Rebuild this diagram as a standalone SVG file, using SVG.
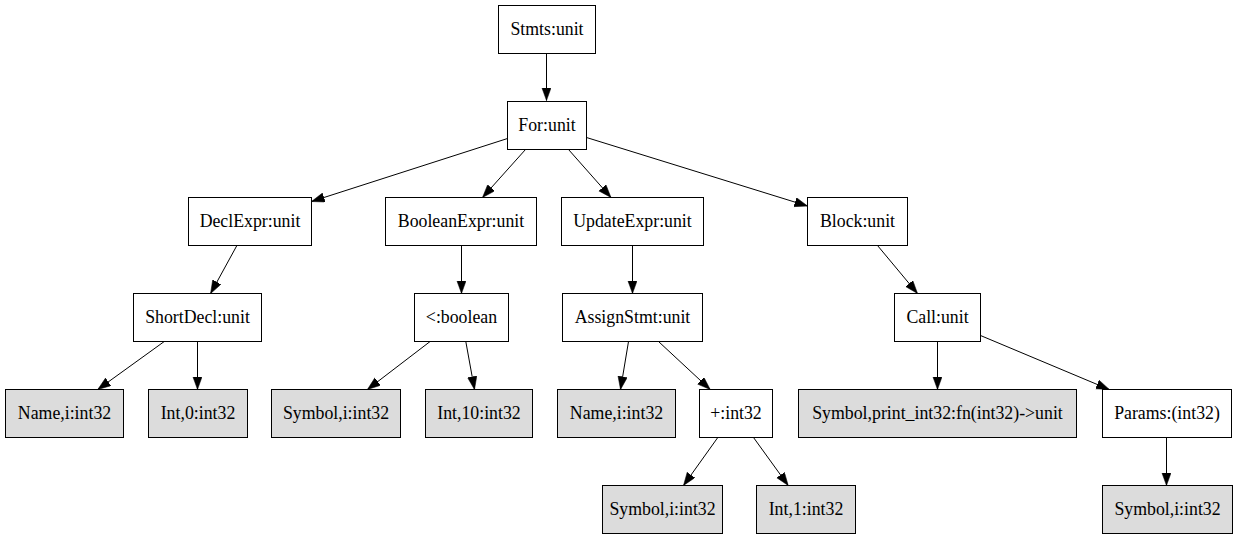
<svg xmlns="http://www.w3.org/2000/svg" width="1237" height="539" viewBox="0 0 1237 539">
<style>
.n rect{fill:#ffffff;stroke:#000;stroke-width:1}
.n.leaf rect{fill:#dcdcdc}
.n text{font-family:'Liberation Serif',serif;font-size:17.8px;fill:#000;text-anchor:middle}
.e line{stroke:#000;stroke-width:1;marker-end:url(#ah)}
</style>
<defs>
<marker id="ah" markerUnits="userSpaceOnUse" markerWidth="15" markerHeight="11" refX="13" refY="4.7" orient="auto">
<path d="M0,0 L13,4.7 L0,9.4 z" fill="#000" stroke="#000" stroke-width="0.5"/>
</marker>
</defs>
<rect width="1237" height="539" fill="#fff"/>
<g transform="translate(0.5,0.5)">
<g id="edges" class="e">
<line x1="546" y1="53" x2="546" y2="100"/>
<line x1="507" y1="138" x2="311" y2="201"/>
<line x1="525" y1="149" x2="482" y2="197"/>
<line x1="568" y1="149" x2="610.5" y2="197"/>
<line x1="586" y1="137" x2="807" y2="205.5"/>
<line x1="236.4" y1="245" x2="210.1" y2="293"/>
<line x1="461" y1="245" x2="461" y2="293"/>
<line x1="632" y1="245" x2="632" y2="293"/>
<line x1="877" y1="245" x2="917" y2="293"/>
<line x1="163.75" y1="341" x2="97.25" y2="389"/>
<line x1="197" y1="341" x2="197" y2="389"/>
<line x1="429.6" y1="341" x2="366.9" y2="389"/>
<line x1="465.3" y1="341" x2="474" y2="389"/>
<line x1="628" y1="341" x2="620" y2="389"/>
<line x1="658" y1="341" x2="709.7" y2="389"/>
<line x1="937" y1="341" x2="937" y2="389"/>
<line x1="980" y1="335" x2="1108.75" y2="389"/>
<line x1="717.3" y1="437" x2="683" y2="485"/>
<line x1="753" y1="437" x2="787.7" y2="485"/>
<line x1="1166" y1="437" x2="1166" y2="485"/>
</g>
<g id="stmts" class="n"><rect x="498" y="5" width="97" height="48"/><text font-family="Liberation Serif" x="546.5" y="34.5">Stmts:unit</text></g>
<g id="for" class="n"><rect x="507" y="101" width="79" height="48"/><text font-family="Liberation Serif" x="546.5" y="130.5">For:unit</text></g>
<g id="declexpr" class="n"><rect x="188" y="197" width="123" height="48"/><text font-family="Liberation Serif" x="249.5" y="226.5">DeclExpr:unit</text></g>
<g id="booleanexpr" class="n"><rect x="385" y="197" width="151" height="48"/><text font-family="Liberation Serif" x="460.5" y="226.5">BooleanExpr:unit</text></g>
<g id="updateexpr" class="n"><rect x="561" y="197" width="142" height="48"/><text font-family="Liberation Serif" x="632" y="226.5">UpdateExpr:unit</text></g>
<g id="block" class="n"><rect x="807" y="197" width="100" height="48"/><text font-family="Liberation Serif" x="857" y="226.5">Block:unit</text></g>
<g id="shortdecl" class="n"><rect x="133" y="293" width="128" height="48"/><text font-family="Liberation Serif" x="197" y="322.5">ShortDecl:unit</text></g>
<g id="lt" class="n"><rect x="414" y="293" width="94" height="48"/><text font-family="Liberation Serif" x="461" y="322.5">&lt;:boolean</text></g>
<g id="assignstmt" class="n"><rect x="562" y="293" width="140" height="48"/><text font-family="Liberation Serif" x="632" y="322.5">AssignStmt:unit</text></g>
<g id="call" class="n"><rect x="894" y="293" width="86" height="48"/><text font-family="Liberation Serif" x="937" y="322.5">Call:unit</text></g>
<g id="name1" class="n leaf"><rect x="5" y="389" width="118" height="48"/><text font-family="Liberation Serif" x="64" y="418.5">Name,i:int32</text></g>
<g id="int0" class="n leaf"><rect x="148" y="389" width="99" height="48"/><text font-family="Liberation Serif" x="197.5" y="418.5">Int,0:int32</text></g>
<g id="symbol1" class="n leaf"><rect x="271" y="389" width="129" height="48"/><text font-family="Liberation Serif" x="335.5" y="418.5">Symbol,i:int32</text></g>
<g id="int10" class="n leaf"><rect x="425" y="389" width="107" height="48"/><text font-family="Liberation Serif" x="478.5" y="418.5">Int,10:int32</text></g>
<g id="name2" class="n leaf"><rect x="557" y="389" width="118" height="48"/><text font-family="Liberation Serif" x="616" y="418.5">Name,i:int32</text></g>
<g id="plus" class="n"><rect x="699" y="389" width="73" height="48"/><text font-family="Liberation Serif" x="735.5" y="418.5">+:int32</text></g>
<g id="symbolprint" class="n leaf"><rect x="798" y="389" width="278" height="48"/><text font-family="Liberation Serif" x="937" y="418.5">Symbol,print_int32:fn(int32)-&gt;unit</text></g>
<g id="params" class="n"><rect x="1102" y="389" width="129" height="48"/><text font-family="Liberation Serif" x="1166.5" y="418.5">Params:(int32)</text></g>
<g id="symbol2" class="n leaf"><rect x="602" y="485" width="120" height="48"/><text font-family="Liberation Serif" x="662" y="514.5">Symbol,i:int32</text></g>
<g id="int1" class="n leaf"><rect x="756" y="485" width="99" height="48"/><text font-family="Liberation Serif" x="805.5" y="514.5">Int,1:int32</text></g>
<g id="symbol3" class="n leaf"><rect x="1102" y="485" width="130" height="48"/><text font-family="Liberation Serif" x="1167" y="514.5">Symbol,i:int32</text></g>
</g>
</svg>
